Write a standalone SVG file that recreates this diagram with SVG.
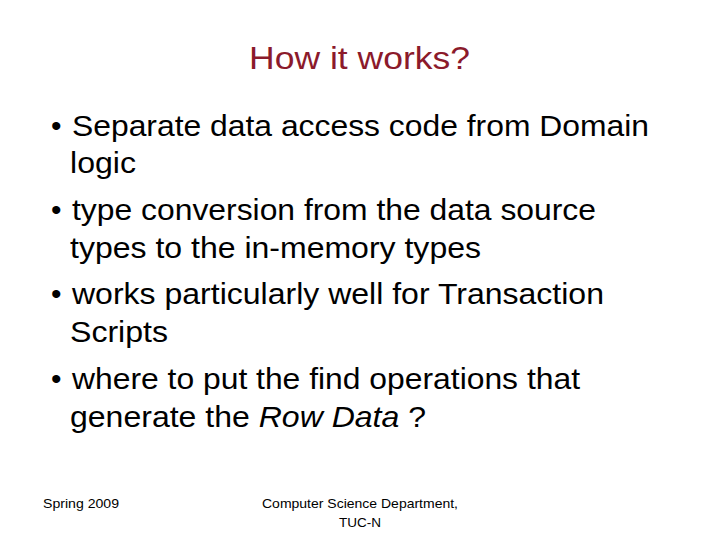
<svg xmlns="http://www.w3.org/2000/svg" width="720" height="540" viewBox="0 0 720 540">
<style>
text{font-family:"Liberation Sans",Arial,sans-serif;fill:#000}
.b{font-size:30px}
.f{font-size:13.5px}
</style>
<rect width="720" height="540" fill="#fff"/>
<text x="249" y="69" font-size="32" textLength="221" lengthAdjust="spacingAndGlyphs" style="fill:#8B1A2B">How it works?</text>
<g>
<text class="b" x="51" y="136">•</text><text class="b" x="72" y="136" textLength="577" lengthAdjust="spacingAndGlyphs">Separate data access code from Domain</text>
<text class="b" x="70" y="173" textLength="66" lengthAdjust="spacingAndGlyphs">logic</text>
<text class="b" x="51" y="220">•</text><text class="b" x="72" y="220" textLength="524" lengthAdjust="spacingAndGlyphs">type conversion from the data source</text>
<text class="b" x="70" y="258" textLength="411" lengthAdjust="spacingAndGlyphs">types to the in-memory types</text>
<text class="b" x="51" y="304">•</text><text class="b" x="72" y="304" textLength="532" lengthAdjust="spacingAndGlyphs">works particularly well for Transaction</text>
<text class="b" x="70" y="342" textLength="98" lengthAdjust="spacingAndGlyphs">Scripts</text>
<text class="b" x="51" y="389">•</text><text class="b" x="72" y="389" textLength="508" lengthAdjust="spacingAndGlyphs">where to put the find operations that</text>
<text class="b" x="70" y="427" textLength="356" lengthAdjust="spacingAndGlyphs">generate the <tspan font-style="italic">Row Data</tspan> ?</text>
</g>
<text class="f" x="43" y="508" textLength="76" lengthAdjust="spacingAndGlyphs">Spring 2009</text>
<text class="f" x="262" y="508" textLength="196" lengthAdjust="spacingAndGlyphs">Computer Science Department,</text>
<text class="f" x="339" y="527" textLength="42" lengthAdjust="spacingAndGlyphs">TUC-N</text>
</svg>
